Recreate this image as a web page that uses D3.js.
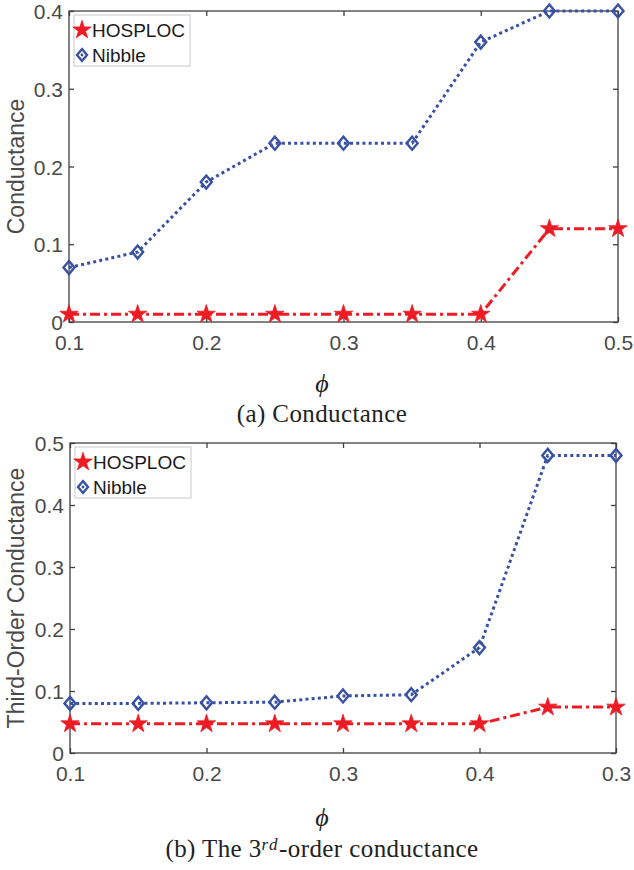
<!DOCTYPE html>
<html>
<head>
<meta charset="utf-8">
<script src="https://cdn.jsdelivr.net/npm/d3@7"></script>
<style>
  body { margin: 0; background: #fff; }
  svg { display: block; }
</style>
</head>
<body>
<svg id="chart" width="634" height="870"></svg>
<script>
const WIDTH = 634
const HEIGHT = 870

// x values (phi)
const phi = [0.1, 0.15, 0.2, 0.25, 0.3, 0.35, 0.4, 0.45, 0.5]
const seriesNames = ['HOSPLOC', 'Nibble']

// panel (a) conductance
const hosplocA = [0.01, 0.01, 0.01, 0.01, 0.01, 0.01, 0.01, 0.12, 0.12]
const nibbleA = [0.07, 0.09, 0.18, 0.23, 0.23, 0.23, 0.36, 0.40, 0.40]
const yTicksA = [0, 0.1, 0.2, 0.3, 0.4]
const xTickLabelsA = ['0.1', '0.2', '0.3', '0.4', '0.5']

// panel (b) third-order conductance
const hosplocB = [0.047, 0.047, 0.047, 0.047, 0.047, 0.047, 0.047, 0.074, 0.074]
const nibbleB = [0.08, 0.08, 0.081, 0.082, 0.092, 0.094, 0.17, 0.48, 0.48]
const yTicksB = [0, 0.1, 0.2, 0.3, 0.4, 0.5]
const xTickLabelsB = ['0.1', '0.2', '0.3', '0.4', '0.3']

const xTicks = [0.1, 0.2, 0.3, 0.4, 0.5]

const RED = '#ed1c24'
const BLUE = '#3851a3'
const AXIS = '#404040'
const SANS = 'Liberation Sans, Arial, sans-serif'
const SERIF = 'Liberation Serif, DejaVu Serif, serif'

const svg = d3.select('#chart')

const diamondPath = (hx, hy) => `M0,${-hy}L${hx},0L0,${hy}L${-hx},0Z`

const drawPanel = cfg => {
    const { left, right, top, bottom } = cfg
    const x = d3.scaleLinear().domain([0.1, 0.5]).range([left, right])
    const y = d3.scaleLinear().domain([0, cfg.yMax]).range([bottom, top])
    const g = svg.append('g')

    // box
    g.append('rect')
        .attr('x', left).attr('y', top)
        .attr('width', right - left).attr('height', bottom - top)
        .attr('fill', 'none').attr('stroke', AXIS).attr('stroke-width', 1.3)

    // axes with inward ticks
    const xAxisB = d3.axisBottom(x).tickValues(xTicks).tickSize(-5).tickFormat((d, i) => cfg.xLabels[i])
    const xAxisT = d3.axisTop(x).tickValues(xTicks).tickSize(-5).tickFormat('')
    const yAxisL = d3.axisLeft(y).tickValues(cfg.yTicks).tickSize(-5).tickFormat(d => d === 0 ? '0' : d3.format('.1f')(d))
    const yAxisR = d3.axisRight(y).tickValues(cfg.yTicks).tickSize(-5).tickFormat('')

    const styleAxis = sel => {
        sel.select('.domain').remove()
        sel.selectAll('line').attr('stroke', AXIS).attr('stroke-width', 1.3)
        sel.selectAll('text').attr('fill', '#4a4a4a').style('font-family', SANS).style('font-size', '21px')
    }

    g.append('g').attr('transform', `translate(0,${bottom})`).call(xAxisB).call(styleAxis)
        .selectAll('text').attr('dy', null).attr('y', 28)
    g.append('g').attr('transform', `translate(0,${top})`).call(xAxisT).call(styleAxis)
    g.append('g').attr('transform', `translate(${left},0)`).call(yAxisL).call(styleAxis)
        .selectAll('text').attr('x', -6).attr('dy', '0.36em')
    g.append('g').attr('transform', `translate(${right},0)`).call(yAxisR).call(styleAxis)

    // y label
    g.append('text')
        .attr('transform', `translate(${cfg.yLabelX},${(top + bottom) / 2}) rotate(-90)`)
        .attr('text-anchor', 'middle')
        .attr('fill', '#4a4a4a')
        .style('font-family', SANS).style('font-size', '23px')
        .text(cfg.yLabel)

    // lines
    const line = vals => d3.line().x((d, i) => x(phi[i])).y(d => y(d))(vals)

    g.append('path')
        .attr('d', line(cfg.nibble))
        .attr('fill', 'none').attr('stroke', BLUE).attr('stroke-width', 3)
        .attr('stroke-dasharray', '3,3.2')

    g.append('path')
        .attr('d', line(cfg.hosploc))
        .attr('fill', 'none').attr('stroke', RED).attr('stroke-width', 3)
        .attr('stroke-dasharray', '10,4,3,4')

    const star = d3.symbol().type(d3.symbolStar).size(105)

    g.selectAll('.diam')
        .data(cfg.nibble)
        .join('path')
        .attr('transform', (d, i) => `translate(${x(phi[i])},${y(d)})`)
        .attr('d', diamondPath(5.5, 6.5))
        .attr('fill', 'none').attr('stroke', BLUE).attr('stroke-width', 2.4)

    g.selectAll('.star')
        .data(cfg.hosploc)
        .join('path')
        .attr('transform', (d, i) => `translate(${x(phi[i])},${y(d)})`)
        .attr('d', star)
        .attr('fill', RED).attr('stroke', RED).attr('stroke-width', 0.8)

    // legend
    const lg = g.append('g').attr('transform', `translate(${left + 5},${top + 4})`)
    lg.append('rect')
        .attr('width', 116).attr('height', 51)
        .attr('fill', '#fff').attr('stroke', '#c8c8c8').attr('stroke-width', 1)
    seriesNames.forEach((name, i) => {
        const cy = 15 + i * 25
        if (i === 0) {
            lg.append('path').attr('transform', `translate(8,${cy})`).attr('d', star)
                .attr('fill', RED).attr('stroke', RED).attr('stroke-width', 0.8)
        } else {
            lg.append('path').attr('transform', `translate(8,${cy})`).attr('d', diamondPath(5, 6))
                .attr('fill', 'none').attr('stroke', BLUE).attr('stroke-width', 2.4)
            lg.append('circle').attr('cx', 8).attr('cy', cy).attr('r', 1.4).attr('fill', BLUE)
        }
        lg.append('text')
            .attr('x', 18).attr('y', cy).attr('dy', '0.36em')
            .attr('fill', '#1a1a1a')
            .style('font-family', SANS).style('font-size', '19px')
            .text(name)
    })

    // x label phi
    g.append('text')
        .attr('x', 322).attr('y', cfg.phiY)
        .attr('text-anchor', 'middle')
        .attr('fill', '#222')
        .style('font-family', SERIF).style('font-style', 'italic').style('font-size', '26px')
        .text('\u03d5')

    // caption
    const cap = g.append('text')
        .attr('x', 322).attr('y', cfg.capY)
        .attr('text-anchor', 'middle')
        .attr('fill', '#222')
        .style('font-family', SERIF).style('font-size', '25px')
        .style('letter-spacing', '0.4px')
    cfg.caption.forEach(part => {
        const t = cap.append('tspan').text(part.t)
        if (part.sup) t.attr('baseline-shift', '40%').style('font-size', '17px').style('font-style', 'italic').style('letter-spacing', '1.5px')
    })
}

drawPanel({
    left: 69, right: 618, top: 11, bottom: 322,
    yMax: 0.4, yTicks: yTicksA, xLabels: xTickLabelsA,
    hosploc: hosplocA, nibble: nibbleA,
    yLabel: 'Conductance', yLabelX: 24,
    phiY: 392, capY: 422,
    caption: [{ t: '(a) Conductance' }]
})

drawPanel({
    left: 70, right: 616, top: 443, bottom: 753,
    yMax: 0.5, yTicks: yTicksB, xLabels: xTickLabelsB,
    hosploc: hosplocB, nibble: nibbleB,
    yLabel: 'Third-Order Conductance', yLabelX: 24,
    phiY: 826, capY: 857,
    caption: [{ t: '(b) The 3' }, { t: 'rd', sup: true }, { t: '-order conductance' }]
})
</script>
</body>
</html>
